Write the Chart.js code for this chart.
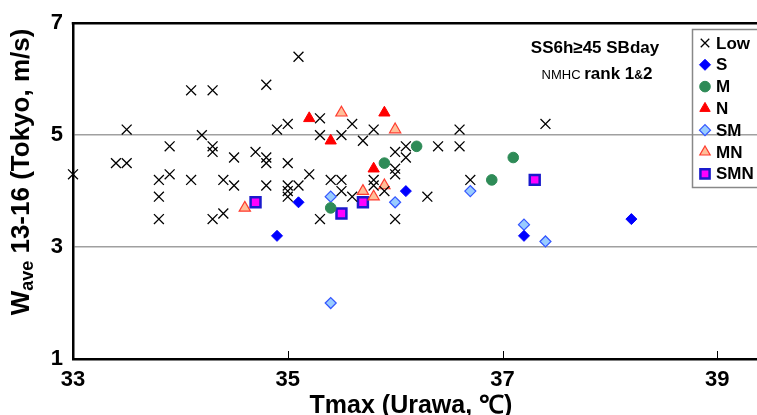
<!DOCTYPE html>
<html>
<head>
<meta charset="utf-8">
<script src="https://cdn.jsdelivr.net/npm/chart.js@4.4.0/dist/chart.umd.min.js"></script>
<style>
  body { margin: 0; background: #fff; }
  canvas { display: block; }
</style>
</head>
<body>
<canvas id="waveChart" width="757" height="415"></canvas>
<script>
// ---- data: Tmax (Urawa, C) vs Wave 13-16 (Tokyo, m/s) ----
var lowT = [33.0, 33.4, 33.5, 33.5, 33.8, 33.8, 33.8, 33.9, 33.9, 34.1, 34.1, 34.2, 34.3, 34.3, 34.3, 34.3,
    34.4, 34.4, 34.5, 34.5, 34.7, 34.8, 34.8, 34.8, 34.8, 34.9, 35.0, 35.0, 35.0, 35.0, 35.0, 35.1, 35.1,
    35.2, 35.3, 35.3, 35.3, 35.4, 35.5, 35.5, 35.5, 35.6, 35.6, 35.7, 35.8, 35.8, 35.8, 35.9, 36.0, 36.0,
    36.0, 36.0, 36.1, 36.1, 36.3, 36.4, 36.6, 36.6, 36.7, 37.4];
var lowW = [4.3, 4.5, 4.5, 5.1, 4.2, 3.9, 3.5, 4.8, 4.3, 5.8, 4.2, 5.0, 5.8, 4.8, 4.7, 3.5,
    4.2, 3.6, 4.6, 4.1, 4.7, 5.9, 4.6, 4.5, 4.1, 5.1, 5.2, 4.5, 4.1, 4.0, 3.9, 4.1, 6.4,
    4.3, 5.3, 5.0, 3.5, 4.2, 5.0, 4.2, 4.0, 5.2, 3.9, 4.9, 5.1, 4.2, 4.1, 4.0, 4.7, 4.4,
    4.3, 3.5, 4.8, 4.6, 3.9, 4.8, 5.1, 4.8, 4.2, 5.2];

var sT = [34.9, 35.1, 36.1, 37.2, 38.2];
var sW = [3.2, 3.8, 4.0, 3.2, 3.5];

var mT = [35.4, 35.9, 36.2, 36.9, 37.1];
var mW = [3.7, 4.5, 4.8, 4.2, 4.6];

var nT = [35.2, 35.4, 35.8, 35.9];
var nW = [5.3, 4.9, 4.4, 5.4];

var smT = [35.4, 35.4, 36.0, 36.7, 37.2, 37.4];
var smW = [3.9, 2.0, 3.8, 4.0, 3.4, 3.1];

var mnT = [34.6, 35.5, 35.7, 35.8, 35.9, 36.0];
var mnW = [3.7, 5.4, 4.0, 3.9, 4.1, 5.1];

var smnT = [34.7, 35.5, 35.7, 37.3];
var smnW = [3.8, 3.6, 3.8, 4.2];

var xTicks = [33, 35, 37, 39];
var yTicks = [1, 3, 5, 7];

//combine x and y arrays into point objects
function pts(xs, ys) {
    return xs.map(function(v, i) { return { x: v, y: ys[i] }; });
}

var FAM = '"Liberation Sans", Arial, sans-serif';

var datasets = [
    { label: 'Low', data: pts(lowT, lowW), pointStyle: 'crossRot', pointRadius: 7,
      borderColor: '#000', backgroundColor: '#000', borderWidth: 1.3 },
    { label: 'S', data: pts(sT, sW), pointStyle: 'rectRot', pointRadius: 5.5,
      borderColor: '#0000ff', backgroundColor: '#0000ff', borderWidth: 1 },
    { label: 'M', data: pts(mT, mW), pointStyle: 'circle', pointRadius: 5.3,
      borderColor: '#2e8b57', backgroundColor: '#2e8b57', borderWidth: 1 },
    { label: 'N', data: pts(nT, nW), pointStyle: 'triangle', pointRadius: 6.5,
      borderColor: '#ff0000', backgroundColor: '#ff0000', borderWidth: 1 },
    { label: 'SM', data: pts(smT, smW), pointStyle: 'rectRot', pointRadius: 5.5,
      borderColor: '#3355ff', backgroundColor: '#99ccff', borderWidth: 1.2 },
    { label: 'MN', data: pts(mnT, mnW), pointStyle: 'triangle', pointRadius: 6.5,
      borderColor: '#ff3b2f', backgroundColor: '#ffbf99', borderWidth: 1.2 },
    { label: 'SMN', data: pts(smnT, smnW), pointStyle: 'rect', pointRadius: 7,
      borderColor: '#1a1acc', backgroundColor: '#ff00ff', borderWidth: 2.5 }
];
datasets.forEach(function(d) { d.clip = false; d.pointHoverRadius = d.pointRadius; });

//draw several text pieces on one line, centered at cx
function richText(ctx, parts, cx, baseY) {
    var total = 0;
    parts.forEach(function(p) { ctx.font = p.font; total += ctx.measureText(p.text).width; });
    var x = cx - total / 2;
    ctx.textAlign = 'left';
    ctx.textBaseline = 'alphabetic';
    parts.forEach(function(p) {
        ctx.font = p.font;
        ctx.fillText(p.text, x, baseY + (p.dy || 0));
        x += ctx.measureText(p.text).width;
    });
}

var extras = {
    id: 'extras',
    beforeDraw: function(chart) {
        var ctx = chart.ctx;
        ctx.save();
        ctx.fillStyle = '#fff';
        ctx.fillRect(0, 0, chart.width, chart.height);
        ctx.restore();
    },
    afterDraw: function(chart) {
        var ctx = chart.ctx, a = chart.chartArea, xs = chart.scales.x;
        ctx.save();
        ctx.fillStyle = '#000';
        ctx.strokeStyle = '#000';

        //top frame line
        ctx.lineWidth = 2.5;
        ctx.beginPath();
        ctx.moveTo(a.left - 1.25, a.top);
        ctx.lineTo(chart.width, a.top);
        ctx.stroke();

        //small inside ticks on the x axis
        ctx.lineWidth = 1;
        xTicks.slice(1).forEach(function(v) {
            var px = Math.round(xs.getPixelForValue(v)) + 0.5;
            ctx.beginPath();
            ctx.moveTo(px, a.bottom);
            ctx.lineTo(px, a.bottom - 8);
            ctx.stroke();
        });

        //x title
        richText(ctx, [{ text: 'Tmax (Urawa, \u2103)', font: 'bold 25px ' + FAM }], 411, 413);

        //y title
        ctx.save();
        ctx.translate(20, 172);
        ctx.rotate(-Math.PI / 2);
        richText(ctx, [
            { text: 'W', font: 'bold 26px ' + FAM },
            { text: 'ave', font: 'bold 18px ' + FAM, dy: 4 },
            { text: ' 13-16 (Tokyo, m/s)', font: 'bold 26px ' + FAM }
        ], 0, 9);
        ctx.restore();

        //annotation
        richText(ctx, [{ text: 'SS6h\u226545 SBday', font: 'bold 17px ' + FAM }], 595, 53);
        richText(ctx, [
            { text: 'NMHC ', font: '13px ' + FAM },
            { text: 'rank 1', font: 'bold 17px ' + FAM },
            { text: '&', font: 'bold 12px ' + FAM },
            { text: '2', font: 'bold 17px ' + FAM }
        ], 597, 79);

        //legend box
        ctx.lineWidth = 1.5;
        ctx.strokeStyle = '#888';
        ctx.strokeRect(692.5, 29.5, 80, 158);
        datasets.forEach(function(d, i) {
            var y = 43 + i * 21.8;
            ctx.fillStyle = d.backgroundColor;
            ctx.strokeStyle = d.borderColor;
            ctx.lineWidth = d.borderWidth;
            Chart.helpers.drawPoint(ctx, {
                pointStyle: d.pointStyle,
                radius: d.pointStyle === 'rect' ? 6.5 : Math.min(d.pointRadius, 6),
                rotation: 0,
                borderWidth: d.borderWidth
            }, 705, y);
            ctx.fillStyle = '#000';
            ctx.font = 'bold 17px ' + FAM;
            ctx.textAlign = 'left';
            ctx.textBaseline = 'middle';
            ctx.fillText(d.label, 716, y + 1);
        });
        ctx.restore();
    }
};

var chrt = document.getElementById('waveChart').getContext('2d');
var waveChart = new Chart(chrt, {
    type: 'scatter',
    data: { datasets: datasets },
    options: {
        responsive: false,
        animation: false,
        events: [],
        layout: { autoPadding: false, padding: { top: 20, right: 0, left: 0, bottom: 0 } },
        plugins: { legend: { display: false }, tooltip: { enabled: false } },
        scales: {
            x: {
                type: 'linear',
                min: 33,
                max: 39.37,
                afterBuildTicks: function(s) { s.ticks = xTicks.map(function(v) { return { value: v }; }); },
                afterFit: function(s) { s.height = 56; s.paddingLeft = 0; s.paddingRight = 0; },
                grid: { display: false, drawTicks: false },
                border: { display: true, color: '#000', width: 2.5 },
                ticks: { color: '#000', font: { size: 22, weight: 'bold', family: FAM },
                    padding: 8, maxRotation: 0, autoSkip: false }
            },
            y: {
                type: 'linear',
                min: 1,
                max: 7,
                afterBuildTicks: function(s) { s.ticks = yTicks.map(function(v) { return { value: v }; }); },
                afterFit: function(s) { s.width = 73; },
                grid: {
                    drawTicks: false,
                    lineWidth: 1.5,
                    color: function(c) { return (c.tick && (c.tick.value === 3 || c.tick.value === 5)) ? '#a0a0a0' : 'rgba(0,0,0,0)'; }
                },
                border: { display: true, color: '#000', width: 2.5 },
                ticks: { color: '#000', font: { size: 22, weight: 'bold', family: FAM },
                    padding: 10 }
            }
        }
    },
    plugins: [extras]
});
</script>
</body>
</html>
